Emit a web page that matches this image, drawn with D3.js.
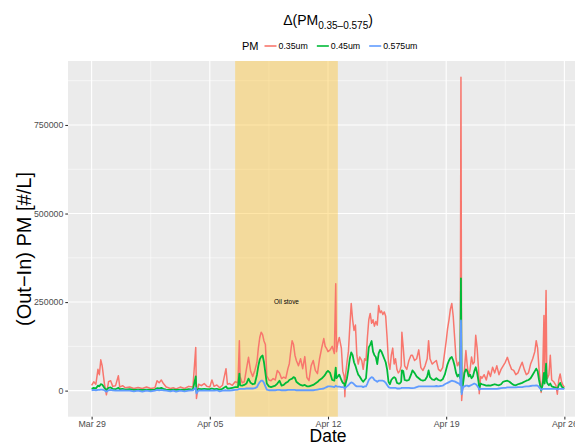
<!DOCTYPE html>
<html><head><meta charset="utf-8">
<script src="https://cdn.jsdelivr.net/npm/d3@7"></script>
<style>body{margin:0;background:#fff}svg{display:block;font-family:"Liberation Sans",Arial,Helvetica,sans-serif}</style>
</head><body>
<svg id="chart" width="575" height="445"></svg>
<script>
// Hours since 2015-03-29 00:00 (UTC)
const startDate = "2015-03-29T00:00:00Z";
const hours = [
0,3,6,9,11,13,15,18,21,
24,27,30,34,38,40,44,
48,54,60,66,
72,78,84,90,93,
96,99,102,106,112,116,
120,126,132,138,
144,148,149,152,156,160,164,
168,171,174,178,182,186,191,193,
196,200,204,208,210,211,214,217,
220,223,226,229,232,235,237,239,
241,243,245,247,249,252,255,258,261,264,
267,270,273,276,279,281,283,285,287,
289,291,294,297,300,303,306,309,312,
315,318,321,324,327,330,332,334,336,
339,342,345,347,348,350,352,355,357,359,360,
361,363,365,367,369,371,373,375,377,379,381,384,
386,388,390,392,394,396,398,400,402,404,406,408,
410,412,414,416,418,420,422,424,426,428,430,432,
434,436,438,440,441,443,445,448,451,454,456,
459,462,465,468,471,474,477,479,481,
484,487,490,493,496,499,502,504,
506,508,510,512,514,516,518,520,522,524,525,526,528,
530,532,534,536,538,540,542,544,546,548,550,551,553,
555,558,561,564,567,570,573,576,
579,582,585,588,591,594,597,600,
603,606,609,612,615,618,621,624,
627,630,632,634,636,638,639,641,643,644,646,647,648,
650,652,654,657,660,662,664,666,668,670,672];

// Values in thousands of #/L
const pm035 = [
15,25,18,60,45,87,70,22,-12,
25,28,12,14,42,10,14,
8,10,6,9,
6,10,6,8,28,
22,30,20,10,6,8,
5,10,6,12,
10,122,-22,18,14,20,12,
10,30,12,16,8,15,62,18,
20,15,25,22,141,40,22,25,
60,94,55,40,57,80,120,150,
165,158,140,130,42,30,28,34,30,57,
50,34,38,35,62,76,110,141,130,
100,85,70,90,62,96,37,28,70,
85,57,48,90,120,147,125,119,110,
115,125,105,302,110,135,150,120,55,40,-17,
45,80,110,180,246,200,170,185,100,75,95,85,
60,90,85,150,200,218,190,200,182,195,185,240,
220,225,215,222,210,150,80,60,100,120,75,90,
60,50,55,70,165,120,70,60,85,100,100,
85,90,115,65,57,70,90,141,90,
75,80,85,60,55,65,110,140,
175,200,230,246,210,150,90,70,80,60,885,-28,25,
60,113,70,40,60,95,75,80,156,120,60,-9,40,
35,45,30,55,40,66,50,70,
45,60,70,80,94,75,60,57,
45,50,66,80,60,45,50,75,
90,110,141,120,60,20,-5,30,212,40,283,50,35,
45,100,30,25,15,-10,30,47,25,15,10];

const pm045 = [
5,8,6,14,12,18,17,8,2,
8,9,5,4,8,4,5,
3,4,2,3,
2,3,2,3,7,
6,8,5,3,2,3,
2,3,2,4,
3,40,-3,5,4,5,4,
4,6,4,5,3,5,12,6,
6,8,10,10,48,15,14,16,
20,34,22,18,20,45,70,88,
96,99,80,50,20,12,10,12,14,20,
28,14,16,22,25,30,32,34,38,
36,25,20,16,14,16,12,12,14,
16,20,24,30,34,40,45,52,56,
50,30,28,65,35,40,45,30,22,20,10,
20,35,60,90,108,100,80,70,57,45,40,30,
25,30,35,80,122,130,140,110,100,95,75,105,
115,110,100,90,80,60,25,18,30,35,38,35,
22,20,20,25,57,55,30,28,30,45,57,
50,40,35,30,28,30,40,57,38,
32,30,35,30,28,32,45,60,
75,85,92,95,85,70,50,40,45,35,317,-5,20,
50,60,55,40,45,35,40,55,66,50,25,5,20,
18,16,14,15,14,16,18,16,
15,18,25,27,28,25,20,16,
15,18,20,22,25,28,30,35,
45,55,62,55,30,10,0,15,50,20,76,25,20,
15,20,12,10,8,4,15,22,12,8,6];

const pm0575 = [
1,2,1,2,2,3,3,1,-3,
1,2,1,0,1,0,1,
0,0,-2,0,
-3,0,-2,0,2,
1,2,1,0,-2,0,
-3,0,-2,0,
1,8,-8,1,0,1,0,
0,1,0,1,-2,0,1,0,
0,1,2,3,5,5,5,5,
6,6,6,6,7,10,18,24,
28,28,22,12,3,1,1,1,1,2,
2,1,1,1,2,2,2,2,2,
2,1,1,1,1,1,1,1,1,
1,2,3,4,5,6,8,10,12,
12,11,10,14,12,11,11,10,10,9,5,
9,12,15,20,23,22,18,14,12,12,12,12,
10,12,12,20,30,35,38,36,30,28,25,28,
28,28,28,26,22,16,10,8,8,8,8,8,
6,6,6,7,8,8,8,8,8,7,7,
8,10,12,12,12,12,12,12,12,
12,12,13,12,13,14,18,20,
22,24,26,28,27,26,24,22,20,15,198,-10,10,
12,14,14,12,14,16,18,20,18,14,8,3,5,
5,5,5,5,5,5,5,5,
6,7,8,8,9,9,9,9,
9,10,10,10,11,12,12,13,
14,14,15,14,10,5,2,5,5,5,5,5,5,
5,5,5,5,5,3,5,5,5,5,5];

const seriesNames = ["0.35um", "0.45um", "0.575um"];
const seriesColors = ["#F8766D", "#00BA38", "#619CFF"];
const xTickDates = ["2015-03-29", "2015-04-05", "2015-04-12", "2015-04-19", "2015-04-26"];
const yTicks = [0, 250000, 500000, 750000];
const stovePeriod = ["2015-04-06T12:00:00Z", "2015-04-12T14:00:00Z"];
const stoveLabel = "Oil stove";
const stoveLabelValue = 250000;

const svg = d3.select("#chart");
const P = {l: 68, r: 588, t: 61, b: 416.7};

const t0 = new Date(startDate).getTime();
const toDate = h => new Date(t0 + h * 3600e3);
const seriesData = [pm035, pm045, pm0575].map(arr => arr.map((v, i) => ({t: toDate(hours[i]), v: v * 1000})));

const tExt = d3.extent(hours).map(toDate);
const tSpan = tExt[1] - tExt[0];
const x = d3.scaleUtc()
  .domain([new Date(+tExt[0] - 0.05 * tSpan), new Date(+tExt[1] + 0.05 * tSpan)])
  .range([P.l, P.r]);
const allV = seriesData.flat().map(d => d.v);
const vMin = d3.min(allV), vMax = d3.max(allV), vSpan = vMax - vMin;
const y = d3.scaleLinear().domain([vMin - 0.05 * vSpan, vMax + 0.05 * vSpan]).range([P.b, P.t]);

svg.append("defs").append("clipPath").attr("id", "clip")
  .append("rect").attr("x", P.l).attr("y", P.t).attr("width", P.r - P.l).attr("height", P.b - P.t);

svg.append("rect").attr("x", P.l).attr("y", P.t).attr("width", P.r - P.l).attr("height", P.b - P.t).attr("fill", "#EBEBEB");

const xMajor = xTickDates.map(s => new Date(s + "T00:00:00Z"));
const xMinor = [];
for (let i = 0; i < xMajor.length - 1; i++) xMinor.push(new Date((+xMajor[i] + +xMajor[i + 1]) / 2));
const yMinor = [];
for (let i = 0; i < yTicks.length; i++) yMinor.push(yTicks[i] + (yTicks[1] - yTicks[0]) / 2);

const grid = svg.append("g").attr("clip-path", "url(#clip)");
grid.selectAll(".vminor").data(xMinor).join("line")
  .attr("x1", d => x(d)).attr("x2", d => x(d)).attr("y1", P.t).attr("y2", P.b)
  .attr("stroke", "#fff").attr("stroke-width", 0.55);
grid.selectAll(".hminor").data(yMinor).join("line")
  .attr("y1", d => y(d)).attr("y2", d => y(d)).attr("x1", P.l).attr("x2", P.r)
  .attr("stroke", "#fff").attr("stroke-width", 0.55);
grid.selectAll(".vmajor").data(xMajor).join("line")
  .attr("x1", d => x(d)).attr("x2", d => x(d)).attr("y1", P.t).attr("y2", P.b)
  .attr("stroke", "#fff").attr("stroke-width", 1.1);
grid.selectAll(".hmajor").data(yTicks).join("line")
  .attr("y1", d => y(d)).attr("y2", d => y(d)).attr("x1", P.l).attr("x2", P.r)
  .attr("stroke", "#fff").attr("stroke-width", 1.1);

const s0 = new Date(stovePeriod[0]), s1 = new Date(stovePeriod[1]);
svg.append("rect").attr("x", x(s0)).attr("y", P.t).attr("width", x(s1) - x(s0)).attr("height", P.b - P.t)
  .attr("fill", "#FFC125").attr("fill-opacity", 0.4);

const line = d3.line().x(d => x(d.t)).y(d => y(d.v));
const widths = [1.5, 1.8, 1.8];
const plot = svg.append("g").attr("clip-path", "url(#clip)");
seriesData.forEach((data, i) => {
  plot.append("path").datum(data).attr("d", line).attr("fill", "none")
    .attr("stroke", seriesColors[i]).attr("stroke-width", widths[i]).attr("stroke-linejoin", "round");
});

svg.append("text").attr("x", x(new Date((+s0 + +s1) / 2))).attr("y", y(stoveLabelValue)).attr("dy", "0.35em")
  .attr("text-anchor", "middle").attr("font-size", 6.4).attr("fill", "#000").text(stoveLabel);

// Axes
const xAxis = d3.axisBottom(x).tickValues(xMajor).tickFormat(d3.utcFormat("%b %d")).tickSize(2.7).tickPadding(1.5);
const gx = svg.append("g").attr("transform", `translate(0,${P.b})`).call(xAxis);
gx.select(".domain").remove();
gx.selectAll("line").attr("stroke", "#333").attr("stroke-width", 1.07);
gx.selectAll("text").attr("fill", "#4D4D4D").attr("font-size", 8.8).attr("font-family", null);

const yAxis = d3.axisLeft(y).tickValues(yTicks).tickFormat(d3.format("d")).tickSize(2.7).tickPadding(2);
const gy = svg.append("g").attr("transform", `translate(${P.l},0)`).call(yAxis);
gy.select(".domain").remove();
gy.selectAll("line").attr("stroke", "#333").attr("stroke-width", 1.07);
gy.selectAll("text").attr("fill", "#4D4D4D").attr("font-size", 8.8).attr("font-family", null);

// Axis titles
svg.append("text").attr("x", (P.l + P.r) / 2).attr("y", 442).attr("text-anchor", "middle")
  .attr("font-size", 17.5).attr("fill", "#000").text("Date");
svg.append("text").attr("transform", `translate(31,249) rotate(-90)`).attr("text-anchor", "middle")
  .attr("font-size", 20).attr("fill", "#000").text("(Out\u2212In) PM  [#/L]");

// Title
const title = svg.append("text").attr("x", (P.l + P.r) / 2).attr("y", 25).attr("text-anchor", "middle")
  .attr("font-size", 14).attr("fill", "#000");
title.append("tspan").text("\u0394(PM");
title.append("tspan").attr("font-size", 10).attr("dy", 3.5).text("0.35\u20130.575");
title.append("tspan").attr("dy", -3.5).text(")");

// Legend
const lg = svg.append("g");
const ly = 46;
let cx = 242;
const lt = lg.append("text").attr("x", cx).attr("y", ly).attr("dy", "0.35em").attr("font-size", 11).text("PM");
cx += lt.node().getComputedTextLength() + 6;
seriesNames.forEach((n, i) => {
  lg.append("line").attr("x1", cx).attr("x2", cx + 12).attr("y1", ly).attr("y2", ly)
    .attr("stroke", seriesColors[i]).attr("stroke-width", 1.6);
  cx += 14;
  const t = lg.append("text").attr("x", cx).attr("y", ly).attr("dy", "0.35em").attr("font-size", 8.8).text(n);
  cx += t.node().getComputedTextLength() + 9;
});
</script>
</body></html>
